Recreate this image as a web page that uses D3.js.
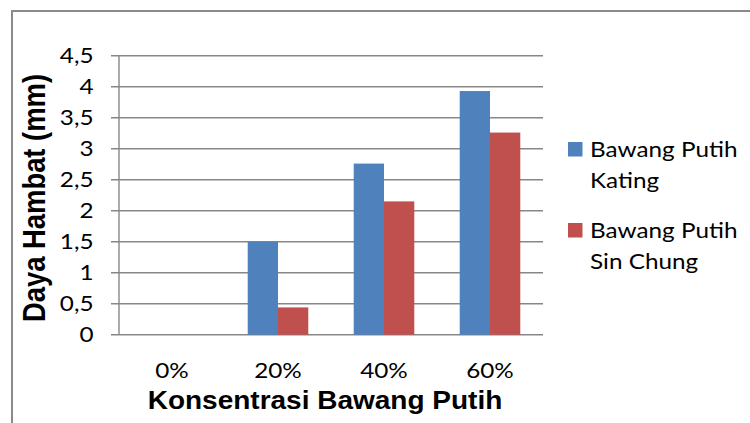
<!DOCTYPE html>
<html>
<head>
<meta charset="utf-8">
<script src="https://cdn.jsdelivr.net/npm/d3@7"></script>
<style>
  html, body { margin: 0; padding: 0; background: #fff; }
  svg { display: block; }
</style>
</head>
<body>
<svg id="chart" width="750" height="423"></svg>
<script>
// Inhibition zone (mm) per garlic extract concentration
const categories = ["0%", "20%", "40%", "60%"];
const seriesNames = ["Bawang Putih Kating", "Bawang Putih Sin Chung"];
const legendLines = [["Bawang Putih", "Kating"], ["Bawang Putih", "Sin Chung"]];
const katingValues = [0, 1.5, 2.76, 3.93];
const sinChungValues = [0, 0.44, 2.15, 3.26];
const yTicks = [0, 0.5, 1, 1.5, 2, 2.5, 3, 3.5, 4, 4.5];
const yTickLabels = ["0", "0,5", "1", "1,5", "2", "2,5", "3", "3,5", "4", "4,5"];
const colors = ["#4F81BD", "#C0504D"];

const svg = d3.select("#chart");
const bodyFont = "Lato, 'Open Sans', sans-serif";
const titleFont = "'Liberation Sans', Arial, sans-serif";
const bodySize = 21.5;
const stretch = 1.13;
const gridColor = "#878787";

const plot = { left: 119, right: 543, top: 55.7, bottom: 334.7 };

// chart frame (top and left edges)
svg.append("path")
  .attr("d", "M12,423 L12,11 L750,11")
  .attr("fill", "none")
  .attr("stroke", "#8a8a8a")
  .attr("stroke-width", 2);

const y = d3.scaleLinear().domain([0, 4.5]).range([plot.bottom, plot.top]);
const x0 = d3.scaleBand().domain(categories).range([plot.left, plot.right]).padding(0);
const x1 = d3.scaleBand().domain(seriesNames).range([0, x0.bandwidth()])
  .paddingInner(0).paddingOuter(0.75);

// horizontal gridlines
svg.append("g").selectAll("line").data(yTicks).join("line")
  .attr("x1", plot.left - 8).attr("x2", plot.right)
  .attr("y1", d => y(d)).attr("y2", d => y(d))
  .attr("stroke", gridColor).attr("stroke-width", 1.4);

// vertical axis line
svg.append("line")
  .attr("x1", plot.left).attr("x2", plot.left)
  .attr("y1", y(4.5)).attr("y2", y(0))
  .attr("stroke", gridColor).attr("stroke-width", 1.4);

// y tick labels
svg.append("g").selectAll("text").data(yTicks).join("text")
  .attr("transform", d => `translate(93.5,${y(d) + 7.5}) scale(${stretch},1)`)
  .attr("text-anchor", "end")
  .attr("font-family", bodyFont).attr("font-size", bodySize)
  .attr("fill", "#000")
  .text((d, i) => yTickLabels[i]);

// bars
const table = categories.map((c, i) => ({ cat: c, vals: [katingValues[i], sinChungValues[i]] }));
const groups = svg.append("g").selectAll("g").data(table).join("g")
  .attr("transform", d => `translate(${x0(d.cat)},0)`);
groups.selectAll("rect")
  .data(d => d.vals.map((v, j) => ({ name: seriesNames[j], v, j })))
  .join("rect")
  .attr("x", d => x1(d.name))
  .attr("width", x1.bandwidth())
  .attr("y", d => y(d.v))
  .attr("height", d => y(0) - y(d.v))
  .attr("fill", d => colors[d.j]);

// x tick labels
svg.append("g").selectAll("text").data(categories).join("text")
  .attr("transform", d => `translate(${x0(d) + x0.bandwidth() / 2},377.5) scale(${stretch},1)`)
  .attr("text-anchor", "middle")
  .attr("font-family", bodyFont).attr("font-size", bodySize)
  .attr("fill", "#000")
  .text(d => d);

// axis titles
svg.append("text")
  .attr("transform", `translate(325,409) scale(1.12,1)`)
  .attr("text-anchor", "middle")
  .attr("font-family", titleFont).attr("font-weight", "bold").attr("font-size", 25)
  .attr("fill", "#000")
  .text("Konsentrasi Bawang Putih");

svg.append("text")
  .attr("transform", `translate(44.5,198) scale(1.15,1) rotate(-90)`)
  .attr("text-anchor", "middle")
  .attr("font-family", titleFont).attr("font-weight", "bold").attr("font-size", 27.4)
  .attr("fill", "#000")
  .text("Daya Hambat (mm)");

// legend
const legend = svg.append("g").selectAll("g").data(seriesNames).join("g")
  .attr("transform", (d, i) => `translate(568,${142 + i * 81})`);
legend.append("rect")
  .attr("width", 14.5).attr("height", 14.5)
  .attr("fill", (d, i) => colors[i]);
legend.each(function (d, i) {
  const g = d3.select(this);
  legendLines[i].forEach((line, k) => {
    g.append("text")
      .attr("transform", `translate(22,${14.8 + k * 31.5}) scale(${stretch},1)`)
      .attr("font-family", bodyFont).attr("font-size", bodySize)
      .attr("fill", "#000")
      .text(line);
  });
});
</script>
</body>
</html>
